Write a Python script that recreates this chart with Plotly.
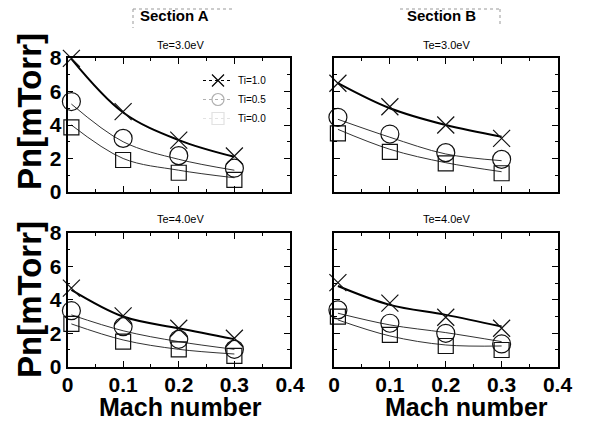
import plotly.graph_objects as go

# ---------------- data ----------------
mach = [0.007, 0.1, 0.2, 0.3]
x_ticks = [0, 0.1, 0.2, 0.3, 0.4]
x_ticktext = ["0", "0.1", "0.2", "0.3", "0.4"]
y_ticks = [0, 2, 4, 6, 8]
y_ticktext = ["0", "2", "4", "6", "8"]
series_names = ["Ti=1.0", "Ti=0.5", "Ti=0.0"]

# Section A, Te=3.0eV
a3_ti10 = [7.98, 4.8, 3.1, 2.15]
a3_ti05 = [5.4, 3.2, 2.17, 1.42]
a3_ti00 = [3.86, 1.91, 1.15, 0.72]
a3_fit10 = [7.95, 4.75, 3.1, 2.1]
a3_fit05 = [5.25, 3.0, 1.95, 1.3]
a3_fit00 = [4.0, 2.0, 1.3, 0.85]
# Section B, Te=3.0eV
b3_ti10 = [6.49, 5.09, 4.0, 3.2]
b3_ti05 = [4.46, 3.46, 2.35, 1.95]
b3_ti00 = [3.5, 2.4, 1.71, 1.12]
b3_fit10 = [6.5, 5.0, 4.0, 3.3]
b3_fit05 = [4.34, 3.27, 2.27, 1.87]
b3_fit00 = [3.74, 2.55, 1.75, 1.21]
# Section A, Te=4.0eV
a4_ti10 = [4.7, 3.04, 2.3, 1.7]
a4_ti05 = [3.35, 2.4, 1.64, 1.04]
a4_ti00 = [2.56, 1.5, 1.04, 0.65]
a4_fit10 = [4.6, 3.0, 2.3, 1.65]
a4_fit05 = [3.1, 2.15, 1.5, 1.04]
a4_fit00 = [2.56, 1.6, 1.04, 0.76]
# Section B, Te=4.0eV
b4_ti10 = [5.03, 3.8, 2.96, 2.3]
b4_ti05 = [3.4, 2.6, 2.0, 1.36]
b4_ti00 = [3.0, 1.9, 1.24, 1.0]
b4_fit10 = [4.83, 3.7, 3.1, 2.4]
b4_fit05 = [3.2, 2.5, 2.04, 1.5]
b4_fit00 = [2.8, 1.84, 1.3, 1.24]

panel_titles = ["Te=3.0eV", "Te=3.0eV", "Te=4.0eV", "Te=4.0eV"]
section_titles = ["Section A", "Section B"]
y_title = "Pn[mTorr]"
x_title = "Mach number"

# ---------------- layout geometry ----------------
# page body has an 8px margin; size the figure so it fits the 591x430 window
OFF = 8
W, H = 591 - 2 * OFF, 430 - 2 * OFF
def px(x):
    return (x - OFF) / W
def py(y):
    return 1 - (y - OFF) / H

left_dom = [px(67.5), px(290)]
right_dom = [px(334), px(557.5)]
top_dom = [py(192), py(58)]
bot_dom = [py(366.7), py(233)]

panels = [
    dict(xd=left_dom, yd=top_dom, data=(a3_ti10, a3_ti05, a3_ti00), fit=(a3_fit10, a3_fit05, a3_fit00), xlab=False, ylab=True),
    dict(xd=right_dom, yd=top_dom, data=(b3_ti10, b3_ti05, b3_ti00), fit=(b3_fit10, b3_fit05, b3_fit00), xlab=False, ylab=False),
    dict(xd=left_dom, yd=bot_dom, data=(a4_ti10, a4_ti05, a4_ti00), fit=(a4_fit10, a4_fit05, a4_fit00), xlab=True, ylab=True),
    dict(xd=right_dom, yd=bot_dom, data=(b4_ti10, b4_ti05, b4_ti00), fit=(b4_fit10, b4_fit05, b4_fit00), xlab=True, ylab=False),
]

fig = go.Figure()
symbols = ["x-thin-open", "circle-open", "square-open"]
sizes = [17, 18, 15]
fit_widths = [2.0, 1.0, 1.0]
fit_colors = ["#000000", "#333333", "#333333"]

for i, p in enumerate(panels):
    n = "" if i == 0 else str(i + 1)
    xa, ya = "x" + n, "y" + n
    for k in range(3):
        fig.add_trace(go.Scatter(
            x=mach, y=p["fit"][k], mode="lines", xaxis=xa, yaxis=ya,
            line=dict(color=fit_colors[k], width=fit_widths[k], shape="spline", smoothing=1.0),
            showlegend=False, hoverinfo="skip"))
    for k in range(3):
        fig.add_trace(go.Scatter(
            x=mach, y=p["data"][k], mode="markers", xaxis=xa, yaxis=ya,
            marker=dict(symbol=symbols[k], size=sizes[k], color="#111111",
                        line=dict(color="#111111", width=1.2)),
            cliponaxis=False, showlegend=False, name=series_names[k]))

    common = dict(showline=True, linecolor="black", linewidth=1.5, mirror="ticks",
                  ticks="inside", ticklen=6, tickwidth=1.2, tickcolor="black",
                  showgrid=False, zeroline=False, automargin=False,
                  tickfont=dict(family="Liberation Sans", size=21, color="black", weight="bold"))
    fig.layout["xaxis" + n] = dict(
        domain=p["xd"], range=[0, 0.4], anchor=ya,
        tickvals=x_ticks, ticktext=x_ticktext, showticklabels=p["xlab"],
        ticklabelstandoff=-2,
        minor=dict(ticks="inside", dtick=0.05, ticklen=3, tickcolor="black", tickwidth=1),
        **common)
    fig.layout["yaxis" + n] = dict(
        domain=p["yd"], range=[0, 8], anchor=xa,
        tickvals=y_ticks, ticktext=y_ticktext, showticklabels=p["ylab"],
        minor=dict(ticks="inside", dtick=1, ticklen=3, tickcolor="black", tickwidth=1),
        **common)

# legend-only entries (top-left panel)
legend_colors = ["#000000", "#b0b0b0", "#e2e2e2"]
for k in range(3):
    fig.add_trace(go.Scatter(
        x=[None], y=[None], mode="lines+markers", name=series_names[k],
        line=dict(color=legend_colors[k], width=1, dash="dot"),
        marker=dict(symbol=symbols[k], size=12, color=legend_colors[k],
                    line=dict(color=legend_colors[k], width=1.2)),
        showlegend=True))

ann = []
title_pos = [(180, 45), (446, 45), (180, 219), (446, 219)]
for t, (x, y) in zip(panel_titles, title_pos):
    ann.append(dict(text=t, x=px(x), y=py(y), xref="paper", yref="paper",
                    xanchor="center", yanchor="middle",
                    showarrow=False, font=dict(family="Liberation Sans", size=11, color="black")))
for t, x in zip(section_titles, [174, 441]):
    ann.append(dict(text="<b>%s</b>" % t, x=px(x), y=py(16), xref="paper", yref="paper",
                    xanchor="center", yanchor="middle",
                    showarrow=False, font=dict(family="Liberation Sans", size=15, color="black")))
for y in [112, 300]:
    ann.append(dict(text="<b>%s</b>" % y_title, x=px(29), y=py(y), xref="paper", yref="paper",
                    xanchor="center", yanchor="middle",
                    textangle=-90, showarrow=False,
                    font=dict(family="Liberation Sans", size=33, color="black")))
for x in [180, 466]:
    ann.append(dict(text="<b>%s</b>" % x_title, x=px(x), y=py(407), xref="paper", yref="paper",
                    xanchor="center", yanchor="middle",
                    showarrow=False, font=dict(family="Liberation Sans", size=25, color="black")))

shapes = [
    dict(type="line", xref="paper", yref="paper", x0=px(133), x1=px(133), y0=py(9), y1=py(28),
         line=dict(color="#999999", width=1, dash="dot")),
    dict(type="line", xref="paper", yref="paper", x0=px(133), x1=px(235), y0=py(9), y1=py(9),
         line=dict(color="#999999", width=1, dash="dot")),
    dict(type="line", xref="paper", yref="paper", x0=px(500), x1=px(500), y0=py(9), y1=py(26),
         line=dict(color="#999999", width=1, dash="dot")),
    dict(type="line", xref="paper", yref="paper", x0=px(400), x1=px(500), y0=py(9), y1=py(9),
         line=dict(color="#999999", width=1, dash="dot")),
]

fig.update_layout(
    width=W, height=H, margin=dict(l=0, r=0, t=0, b=0, pad=0, autoexpand=False),
    paper_bgcolor="white", plot_bgcolor="white",
    annotations=ann, shapes=shapes,
    legend=dict(x=px(198), y=py(66), xanchor="left", yanchor="top",
                bgcolor="rgba(0,0,0,0)", font=dict(family="Liberation Sans", size=10, color="black"),
                itemwidth=30, tracegroupgap=0),
)

fig.write_html("out.html")
